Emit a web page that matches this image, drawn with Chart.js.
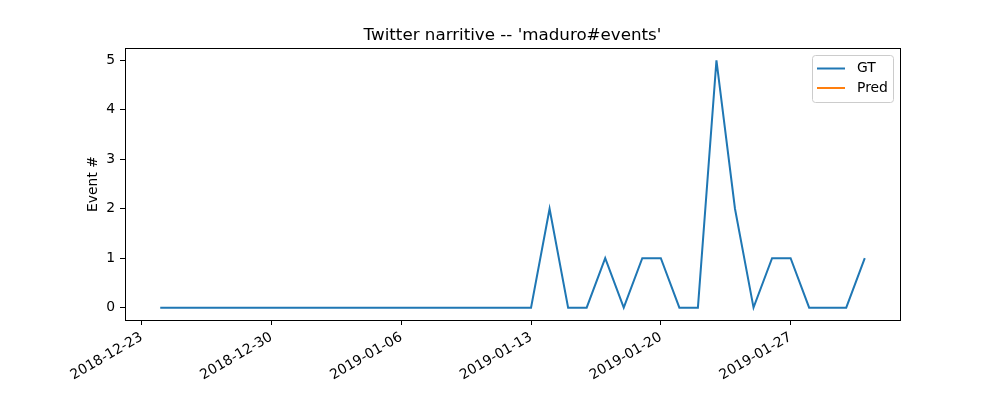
<!DOCTYPE html>
<html>
<head>
<meta charset="utf-8">
<script src="https://cdn.jsdelivr.net/npm/chart.js@4.4.0/dist/chart.umd.min.js"></script>
<style>
html,body{margin:0;padding:0;background:#fff;}
#wrap{width:1000px;height:400px;}
</style>
</head>
<body>
<div id="wrap"><canvas id="c" width="1000" height="400"></canvas></div>
<script>
const titleText = "Twitter narritive -- 'maduro#events'";
const yLabel = "Event #";
const dates = ['2018-12-24','2018-12-25','2018-12-26','2018-12-27','2018-12-28','2018-12-29','2018-12-30','2018-12-31',
  '2019-01-01','2019-01-02','2019-01-03','2019-01-04','2019-01-05','2019-01-06','2019-01-07','2019-01-08','2019-01-09',
  '2019-01-10','2019-01-11','2019-01-12','2019-01-13','2019-01-14','2019-01-15','2019-01-16','2019-01-17','2019-01-18',
  '2019-01-19','2019-01-20','2019-01-21','2019-01-22','2019-01-23','2019-01-24','2019-01-25','2019-01-26','2019-01-27',
  '2019-01-28','2019-01-29','2019-01-30','2019-01-31'];
const gtValues = [0,0,0,0,0,0,0,0,0,0,0,0,0,0,0,0,0,0,0,0,0,2,0,0,1,0,1,1,0,0,5,2,0,1,1,0,0,0,1];
const predValues = [];
const xTickLabels = ['2018-12-23','2018-12-30','2019-01-06','2019-01-13','2019-01-20','2019-01-27'];
const yTicks = [0,1,2,3,4,5];
const legendLabels = ['GT','Pred'];
const colors = ['#1f77b4','#ff7f0e'];

const DAY = 86400000;
const origin = Date.parse(xTickLabels[0] + 'T00:00:00Z');
const toDay = d => (Date.parse(d + 'T00:00:00Z') - origin) / DAY;
const gtData = dates.map((d,i) => ({x: toDay(d), y: gtValues[i]}));
const predData = predValues.map((v,i) => ({x: toDay(dates[i]), y: v}));
const xTickVals = xTickLabels.map(toDay);
const xMin = gtData[0].x, xMax = gtData[gtData.length-1].x;
const xPad = (xMax - xMin) * 0.05;
const yMinV = Math.min(...gtValues), yMaxV = Math.max(...gtValues);
const yPad = (yMaxV - yMinV) * 0.05;

const FONT = "'DejaVu Sans', sans-serif";

const overlay = {
  id: 'overlay',
  afterDraw(chart) {
    const ctx = chart.ctx, a = chart.chartArea;
    ctx.save();
    ctx.strokeStyle = '#000';
    ctx.lineWidth = 1;
    ctx.strokeRect(Math.round(a.left)+0.5, Math.round(a.top)+0.5, Math.round(a.right-a.left), Math.round(a.bottom-a.top));
    // title
    ctx.fillStyle = '#000';
    ctx.font = '16.7px ' + FONT;
    ctx.textAlign = 'center';
    ctx.textBaseline = 'alphabetic';
    ctx.fillText(titleText, (a.left+a.right)/2, a.top - 8);
    // y label
    ctx.save();
    ctx.translate(97, (a.top+a.bottom)/2);
    ctx.rotate(-Math.PI/2);
    ctx.font = '13.9px ' + FONT;
    ctx.textAlign = 'center';
    ctx.textBaseline = 'alphabetic';
    ctx.fillText(yLabel, 0, 0);
    ctx.restore();
    // legend
    const bx = a.right - 88, by = a.top + 7, bw = 81, bh = 47;
    ctx.fillStyle = 'rgba(255,255,255,0.8)';
    ctx.strokeStyle = '#cccccc';
    ctx.lineWidth = 1;
    ctx.beginPath();
    if (ctx.roundRect) ctx.roundRect(bx+0.5, by+0.5, bw, bh, 3); else ctx.rect(bx+0.5, by+0.5, bw, bh);
    ctx.fill(); ctx.stroke();
    ctx.font = '13.9px ' + FONT;
    ctx.textAlign = 'left';
    ctx.textBaseline = 'middle';
    legendLabels.forEach((lab, i) => {
      const ly = by + 13.5 + i * 19.5;
      ctx.strokeStyle = colors[i];
      ctx.lineWidth = 2;
      ctx.beginPath();
      ctx.moveTo(bx + 5, ly);
      ctx.lineTo(bx + 33, ly);
      ctx.stroke();
      ctx.fillStyle = '#000';
      ctx.fillText(lab, bx + 45, ly);
    });
    ctx.restore();
  }
};

new Chart(document.getElementById('c'), {
  type: 'line',
  data: {
    datasets: [
      {label: legendLabels[0], data: gtData, borderColor: colors[0], borderWidth: 2, pointRadius: 0, fill: false, tension: 0},
      {label: legendLabels[1], data: predData, borderColor: colors[1], borderWidth: 2, pointRadius: 0, fill: false, tension: 0}
    ]
  },
  options: {
    responsive: false,
    animation: false,
    devicePixelRatio: 1,
    layout: {padding: {top: 48, right: 100, left: 0, bottom: 0}},
    plugins: {legend: {display: false}, title: {display: false}, tooltip: {enabled: false}},
    scales: {
      x: {
        type: 'linear',
        min: xMin - xPad,
        max: xMax + xPad,
        afterBuildTicks: s => { s.ticks = xTickVals.map(v => ({value: v})); },
        afterFit: s => { s.height = 80; },
        ticks: {
          autoSkip: false,
          maxRotation: 30, minRotation: 30,
          padding: 4,
          color: '#000',
          font: {family: FONT, size: 13.9},
          callback: (v) => { const i = xTickVals.indexOf(v); return i >= 0 ? xTickLabels[i] : ''; }
        },
        grid: {drawOnChartArea: false, drawTicks: true, tickLength: 5, color: '#000', tickWidth: 1},
        border: {display: true, color: '#000', width: 1}
      },
      y: {
        type: 'linear',
        min: yMinV - yPad,
        max: yMaxV + yPad,
        afterBuildTicks: s => { s.ticks = yTicks.map(v => ({value: v})); },
        afterFit: s => { s.width = 125; },
        ticks: {
          padding: 5,
          color: '#000',
          font: {family: FONT, size: 13.9},
          callback: v => String(v)
        },
        grid: {drawOnChartArea: false, drawTicks: true, tickLength: 5, color: '#000', tickWidth: 1},
        border: {display: true, color: '#000', width: 1}
      }
    }
  },
  plugins: [overlay]
});
</script>
</body>
</html>
